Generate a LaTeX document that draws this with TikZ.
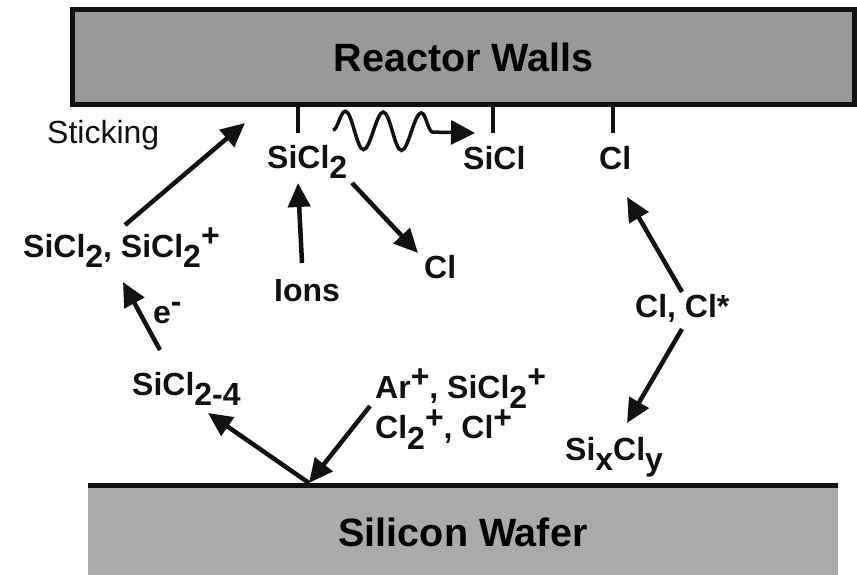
\documentclass[tikz,border=0pt]{standalone}
\usepackage{fontspec}
\setmainfont{Liberation Sans}
\usetikzlibrary{arrows.meta,calc,decorations.pathmorphing}
\definecolor{wallgray}{RGB}{153,153,153}
\definecolor{wafergray}{RGB}{170,170,170}
\definecolor{inkblack}{RGB}{17,17,17}
\tikzset{
  wall/.style={draw=inkblack, line width=5pt, fill=wallgray, outer sep=0pt,
    minimum width=782pt, minimum height=95pt,
    font=\fontsize{39.5}{41}\selectfont\bfseries},
  wafer/.style={fill=wafergray, inner sep=0pt, outer sep=0pt,
    minimum width=750pt, minimum height=95pt,
    font=\fontsize{39.5}{41}\selectfont\bfseries},
  lbl/.style={inner sep=0pt, anchor=base west, text=inkblack,
    font=\fontsize{32}{35}\selectfont\bfseries},
  arr/.style={-{Triangle[length=24pt, width=22pt]}, line width=4.5pt, draw=inkblack},
  tick/.style={line width=4.5pt, draw=inkblack},
  wavy/.style={-{Triangle[length=24pt, width=24pt]}, line width=3.5pt, draw=inkblack,
    decorate, decoration={snake, amplitude=19pt, segment length=38pt, post length=30pt}},
}
\newcommand{\chemup}[1]{\raisebox{0.32em}{#1}}
\newcommand{\chemdn}[1]{\raisebox{-0.33em}{#1}}
\newcommand{\tightlines}{\lineskiplimit=-40pt\relax}

\begin{document}
\begin{tikzpicture}[x=1pt, y=-1pt]
  \useasboundingbox (0,0) rectangle (857,574);

  % walls and wafer
  \node[wall] (walls) at (463.5,57) {Reactor Walls};
  \node[wafer] (wafer) at (463,532.5) {Silicon Wafer};
  \draw[line width=5pt, draw=inkblack] (wafer.north west) -- (wafer.north east);

  % species
  \node[lbl, font=\fontsize{32}{35}\selectfont] (stick) at (47,143) {Sticking};
  \node[lbl] (sicl2) at (267,168) {SiCl\chemdn{2}};
  \node[lbl] (sicl) at (463,169) {SiCl};
  \node[lbl] (clw) at (599,169) {Cl};
  \node[lbl] (sicl2p) at (23,257) {SiCl\chemdn{2}, SiCl\chemdn{2}\chemup{+}};
  \node[lbl] (ions) at (274,301) {Ions};
  \node[lbl] (clg) at (424,278) {Cl};
  \node[lbl] (elec) at (153,323) {e\chemup{-}};
  \node[lbl] (sicl24) at (132,395) {SiCl\chemdn{2-4}};
  \node[lbl, anchor=north west, align=left] (arp) at (375,369)
    {\tightlines Ar\chemup{+}, SiCl\chemdn{2}\chemup{+}\\Cl\chemdn{2}\chemup{+}, Cl\chemup{+}};
  \node[lbl] (clstar) at (635,317) {Cl, Cl*};
  \node[lbl] (sixcly) at (565,460) {Si\chemdn{x}Cl\chemdn{y}};

  \coordinate (stuck) at (245,123);
  \coordinate (hit) at ($(wafer.north west)+(221,-2)$);

  % bonds to the wall
  \draw[tick] ($(sicl2.base west)+(31,-35)$) coordinate (t1) -- (t1 |- walls.south);
  \draw[tick] ($(sicl.base west)+(30,-36)$) coordinate (t2) -- (t2 |- walls.south);
  \draw[tick] ($(clw.base west)+(14,-36)$) coordinate (t3) -- (t3 |- walls.south);

  % reactions
  \draw[wavy] ($(sicl2.base west)+(66,-38)$) -- ($(sicl.base west)+(12,-36)$);
  \draw[arr] ($(sicl2p.base west)+(102,-32)$) -- (stuck);
  \draw[arr] ($(ions.base west)+(28,-38)$) -- ($(sicl2.base west)+(31,15)$);
  \draw[arr] ($(sicl2.base west)+(85,15)$) -- ($(clg.base west)+(-6,-25)$);
  \draw[arr] ($(sicl24.base west)+(28,-45)$) -- ($(sicl2p.base west)+(100,25)$);
  \draw[arr] (hit) -- ($(sicl24.base west)+(76,18)$);
  \draw[arr] ($(arp.north west)+(-5,37)$) -- (hit);
  \draw[arr] ($(clstar.base west)+(47,-25)$) -- ($(clw.base west)+(28,28)$);
  \draw[arr] ($(clstar.base west)+(47,12)$) -- ($(sixcly.base west)+(62,-37)$);
\end{tikzpicture}
\end{document}
